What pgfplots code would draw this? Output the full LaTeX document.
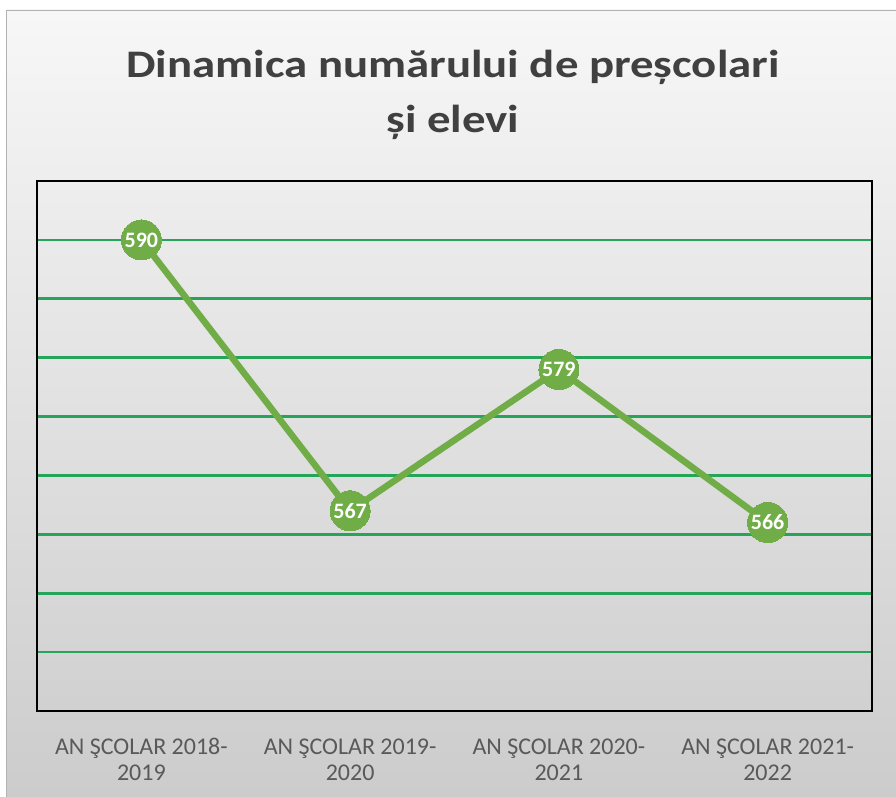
\documentclass[border=0pt]{standalone}
\usepackage{pgfplots}
\pgfplotsset{compat=1.18}
\usepackage{fontspec}
\setmainfont{Carlito}
\newfontfamily\titlefont[FakeStretch=1.2]{Carlito}

\definecolor{linegreen}{RGB}{112,173,71}
\definecolor{gridgreen}{RGB}{36,165,90}
\definecolor{titlegray}{RGB}{64,64,64}
\definecolor{labelgray}{RGB}{89,89,89}

\begin{document}
\begin{tikzpicture}
\useasboundingbox (0pt,0pt) rectangle (896pt,797pt);
\fill[white] (0pt,0pt) rectangle (896pt,797pt);
\shade[top color={rgb,255:red,247;green,247;blue,247},
       middle color={rgb,255:red,228;green,228;blue,228},
       bottom color={rgb,255:red,204;green,204;blue,204}]
    (6pt,0pt) rectangle (896pt,787pt);
\draw[gray!60, line width=1.5pt] (6.5pt,0pt) -- (6.5pt,786.5pt) -- (896pt,786.5pt);

% title
\node[anchor=base, font=\titlefont\fontsize{39}{44}\selectfont\bfseries, text=titlegray]
    at (453pt,719pt) {Dinamica numărului de preșcolari};
\node[anchor=base, font=\titlefont\fontsize{39}{44}\selectfont\bfseries, text=titlegray]
    at (453pt,664pt) {și elevi};

\begin{axis}[
    at={(37pt,86pt)},
    anchor=south west,
    scale only axis,
    width=835pt,
    height=530pt,
    xmin=-0.5, xmax=3.5,
    ymin=550, ymax=595,
    xtick={0,1,2,3},
    xticklabels={{AN ŞCOLAR 2018-\\2019},{AN ŞCOLAR 2019-\\2020},
                 {AN ŞCOLAR 2020-\\2021},{AN ŞCOLAR 2021-\\2022}},
    xticklabel style={align=center, text=labelgray,
        font=\fontsize{24}{26}\selectfont, yshift=-24pt},
    major tick length=0pt,
    ytick={555,560,...,590},
    yticklabels={},
    ymajorgrids,
    grid style={gridgreen, line width=2.6pt},
    axis line style={black, line width=2pt},
    clip=false,
    /pgf/number format/assume math mode=true,
    nodes near coords,
    every node near coord/.append style={anchor=center, text=white,
        font=\fontsize{22}{24}\selectfont\bfseries},
]
\addplot[color=linegreen, line width=6.5pt, mark=*,
         mark size=20pt, mark options={fill=linegreen, draw=linegreen, line width=0pt}]
coordinates {
    (0,590) (1,567) (2,579) (3,566)
};
\end{axis}
\end{tikzpicture}
\end{document}
